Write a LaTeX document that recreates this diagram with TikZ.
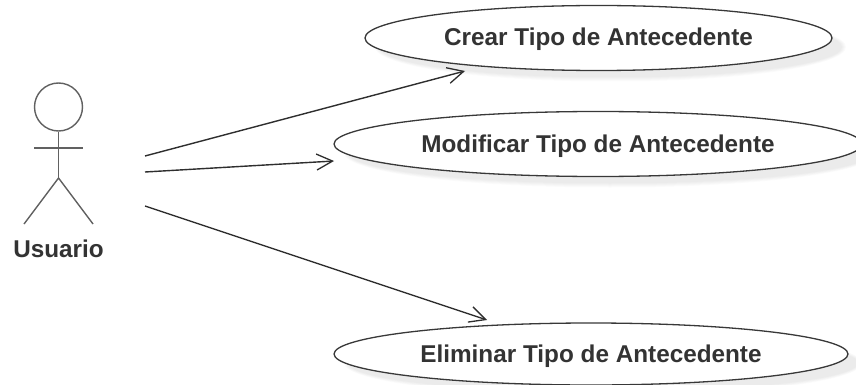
\documentclass[tikz,border=0pt]{standalone}
\usepackage{fontspec}
\setmainfont{Liberation Sans}
\usetikzlibrary{shapes.geometric,arrows.meta}
\tikzset{
 x=1pt,y=-1pt,
 usecase/.style={ellipse,draw=black!78,line width=1.3pt,fill=white,inner sep=0pt,outer sep=0pt,font=\bfseries\fontsize{24.3}{28}\selectfont,text=black!80,text height=16pt,text depth=0pt},
 shade1/.style={ellipse,fill=black,opacity=0.014,inner sep=0pt},
 actorline/.style={draw=black!62,line width=1.4pt},
 assoc/.style={draw=black!82,line width=1.4pt,-{Straight Barb[length=16pt,width=16pt,line width=1.3pt]}},
}
\newcommand{\casenode}[6]{% name, cx, cy, w, h, text
 \foreach \g in {0,2,4,6,8}{
  \node[shade1,minimum width={#4*1pt+4pt-\g pt},minimum height={#5*1pt+4pt-\g pt}] at (#2+12,#3+9) {};
 }
 \node[usecase,minimum width=#4 pt,minimum height=#5 pt] (#1) at (#2,#3) {#6};
}
\begin{document}
\begin{tikzpicture}
\useasboundingbox (0,0) rectangle (856,385);
\begin{scope}
\clip (0,0) rectangle (856,385);
\casenode{e1}{598.5}{38}{467}{65}{Crear Tipo de Antecedente}
\casenode{e2}{598}{144}{528}{65}{Modificar Tipo de Antecedente}
\casenode{e3}{591}{354}{514}{62}{Eliminar Tipo de Antecedente}
\end{scope}
% actor
\node[circle,draw=black!62,line width=1.4pt,minimum size=48pt,inner sep=0pt] (head) at (58.5,107) {};
\coordinate (hip) at (58.5,178);
\coordinate (armL) at (34,148);
\coordinate (armR) at (83,148);
\coordinate (footL) at (24,224);
\coordinate (footR) at (93,224);
\draw[actorline] (head.south) -- (hip);
\draw[actorline] (armL) -- (armR);
\draw[actorline] (footL) -- (hip) -- (footR);
\node[font=\bfseries\fontsize{24.3}{28}\selectfont,text=black!80,text height=16pt,text depth=0pt,inner sep=0pt] (lab) at (58.5,249.5) {Usuario};
% connectors
\coordinate (s1) at (145,156);
\coordinate (s2) at (145,172);
\coordinate (s3) at (145,206);
\coordinate (t1) at (465,71);
\coordinate (t2) at (334,161);
\coordinate (t3) at (487,320);
\draw[assoc] (s1) -- (t1);
\draw[assoc] (s2) -- (t2);
\draw[assoc] (s3) -- (t3);
\end{tikzpicture}
\end{document}
